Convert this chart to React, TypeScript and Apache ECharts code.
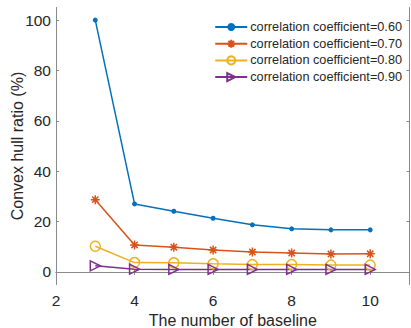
import React, { useEffect, useRef } from "react";
import * as echarts from "echarts";

const baselines = [3, 4, 5, 6, 7, 8, 9, 10];
const seriesNames = [
  "correlation coefficient=0.60",
  "correlation coefficient=0.70",
  "correlation coefficient=0.80",
  "correlation coefficient=0.90",
];
const r060 = [100, 27.0, 24.1, 21.3, 18.7, 17.1, 16.7, 16.7];
const r070 = [28.7, 10.7, 9.8, 8.7, 7.9, 7.5, 7.1, 7.2];
const r080 = [10.2, 3.7, 3.6, 3.2, 2.9, 2.9, 2.7, 2.7];
const r090 = [2.4, 1.1, 1.0, 1.0, 1.0, 1.0, 1.0, 1.0];
const xTicks = [2, 4, 6, 8, 10];
const yTicks = [0, 20, 40, 60, 80, 100];

const colors = ["#0072BD", "#D95319", "#EDB120", "#7E2F8E"];
const FONT = "'Liberation Sans', Arial, Helvetica, sans-serif";
const AXIS_COLOR = "#8a8a8a";
const TEXT_COLOR = "#262626";

export default function App() {
  const ref = useRef<HTMLDivElement>(null);
  useEffect(() => {
    if (!ref.current) return;
    const chart = echarts.init(ref.current, undefined, { renderer: "svg" });
    const pair = (vals: number[]) => baselines.map((b, i) => [b, vals[i]]);
    const asterisk =
      "path://M5,0 L5,10 M0,5 L10,5 M1.5,1.5 L8.5,8.5 M1.5,8.5 L8.5,1.5";
    const triRight = "path://M0,0 L10,5 L0,10 Z";
    const axisLineStyle = { color: AXIS_COLOR, width: 1 };
    const mk = (
      idx: number,
      vals: number[],
      symbol: string,
      size: number,
      hollow: boolean,
      stroke: boolean
    ) => ({
      name: seriesNames[idx],
      type: "line",
      data: pair(vals),
      symbol,
      symbolSize: size,
      showAllSymbol: true,
      lineStyle: { color: colors[idx], width: 1.5 },
      itemStyle: hollow
        ? { color: "rgba(255,255,255,0)", borderColor: colors[idx], borderWidth: 1.5 }
        : stroke
        ? { color: colors[idx], borderColor: colors[idx], borderWidth: 1.5 }
        : { color: colors[idx], borderWidth: 0 },
      emphasis: { disabled: true },
    });
    chart.setOption({
      animation: false,
      textStyle: { fontFamily: FONT },
      grid: {
        left: 56,
        right: 1.5,
        top: 7.5,
        bottom: 43.5,
        containLabel: false,
        outerBoundsMode: "none",
      },
      legend: {
        orient: "vertical",
        right: 9,
        top: 19,
        itemWidth: 32,
        itemHeight: 10,
        itemGap: 0.7,
        padding: 0,
        textStyle: {
          fontSize: 12.7,
          lineHeight: 16,
          color: TEXT_COLOR,
          fontFamily: FONT,
          padding: [0, 0, 0, -2],
        },
        data: seriesNames,
      },
      xAxis: [
        {
          type: "value",
          min: 2,
          max: 11,
          name: "The number of baseline",
          nameLocation: "middle",
          nameGap: 28.5,
          nameMoveOverlap: false,
          nameTextStyle: { fontSize: 16, lineHeight: 15, color: TEXT_COLOR },
          axisLine: { show: true, lineStyle: axisLineStyle },
          axisTick: { show: true, inside: true, length: 3, lineStyle: axisLineStyle, customValues: xTicks },
          axisLabel: { fontSize: 15.5, color: TEXT_COLOR, margin: 7.5, customValues: xTicks },
          splitLine: { show: false },
        },
        {
          type: "value",
          position: "top",
          min: 2,
          max: 11,
          axisLine: { show: true, lineStyle: axisLineStyle },
          axisTick: { show: true, inside: true, length: 3, lineStyle: axisLineStyle, customValues: xTicks },
          axisLabel: { show: false },
          splitLine: { show: false },
        },
      ],
      yAxis: [
        {
          type: "value",
          min: -5,
          max: 105,
          name: "Convex hull ratio (%)",
          nameLocation: "middle",
          nameGap: 31,
          nameMoveOverlap: false,
          nameTextStyle: { fontSize: 16, lineHeight: 16, color: TEXT_COLOR },
          axisLine: { show: true, lineStyle: axisLineStyle },
          axisTick: { show: true, inside: true, length: 3, lineStyle: axisLineStyle, customValues: yTicks },
          axisLabel: { fontSize: 15.5, color: TEXT_COLOR, margin: 5, customValues: yTicks },
          splitLine: { show: false },
        },
        {
          type: "value",
          position: "right",
          min: -5,
          max: 105,
          axisLine: { show: true, lineStyle: axisLineStyle },
          axisTick: { show: true, inside: true, length: 3, lineStyle: axisLineStyle, customValues: yTicks },
          axisLabel: { show: false },
          splitLine: { show: false },
        },
      ],
      series: [
        mk(0, r060, "circle", 5, false, false),
        mk(1, r070, asterisk, 9, false, true),
        mk(2, r080, "circle", 10, true, false),
        mk(3, r090, triRight, 10, true, false),
      ],
    });
    return () => chart.dispose();
  }, []);
  return <div ref={ref} style={{ width: 411, height: 328, position: "absolute", left: 0, top: 0 }} />;
}
